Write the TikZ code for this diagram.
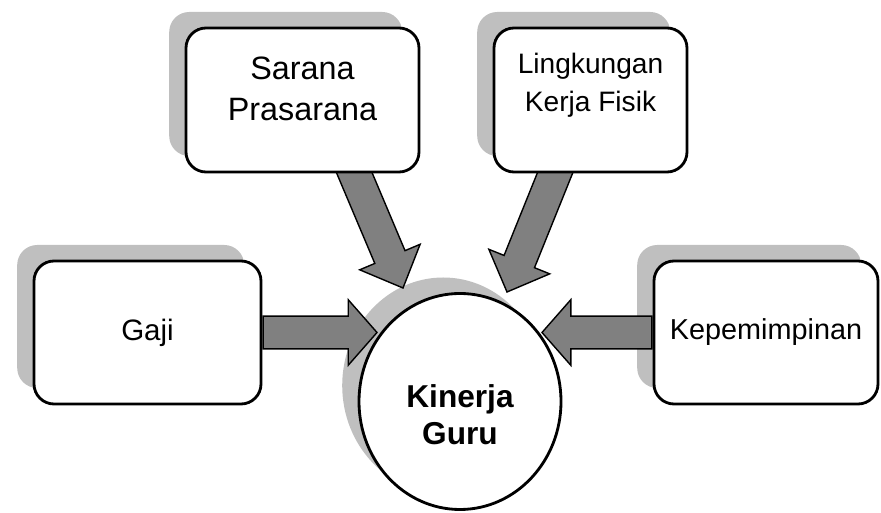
\documentclass[tikz,border=0pt]{standalone}
\usepackage{fontspec}
\setmainfont{Liberation Sans}
\usetikzlibrary{shapes.geometric,calc,shadows,backgrounds}
\pgfdeclarelayer{back}
\pgfdeclarelayer{mid}
\pgfsetlayers{back,mid,main}

% block arrow from #2 to #3, head length #1
\newcommand{\blockarrow}[3][0.72cm]{%
  \draw[blockarr] ($(#2)!0.41cm!90:(#3)$)
    -- ($(#3)!#1!(#2)!0.41cm!-90:(#2)$)
    -- ($(#3)!#1!(#2)!0.82cm!-90:(#2)$)
    -- (#3)
    -- ($(#3)!#1!(#2)!0.82cm!90:(#2)$)
    -- ($(#3)!#1!(#2)!0.41cm!90:(#2)$)
    -- ($(#2)!0.41cm!-90:(#3)$) -- cycle;}

\begin{document}
\begin{tikzpicture}[
    shade/.style={drop shadow={shadow xshift=-0.42cm, shadow yshift=0.4cm, fill=black!25, opacity=1}},
    box/.style={rectangle, draw=black, line width=2pt, fill=white, rounded corners=0.5cm, shade},
    core/.style={ellipse, draw=black, line width=2pt, fill=white, minimum width=5.05cm, minimum height=5.4cm, inner sep=0pt, shade},
    txt/.style={align=center, inner sep=0pt},
    blockarr/.style={draw=black, line width=1pt, fill=black!50, line join=miter}
]
    \useasboundingbox (0,0) rectangle (22.025,12.825);

    \begin{pgfonlayer}{back}
    \node[core, label={[txt, font=\fontsize{22.5}{27}\selectfont\bfseries, yshift=-0.33cm]center:Kinerja\\Guru}] (kinerja) at (11.5,2.7875) {};
    \end{pgfonlayer}

    \node[box, minimum width=5.825cm, minimum height=3.6cm, label={[txt, font=\fontsize{23}{29.2}\selectfont, yshift=0.27cm]center:Sarana\\Prasarana}] (sarana) at (7.5625,10.325) {};
    \node[box, minimum width=4.825cm, minimum height=3.6cm, label={[txt, font=\fontsize{20}{27}\selectfont, yshift=0.36cm]center:Lingkungan\\Kerja Fisik}] (lingkungan) at (14.7625,10.325) {};
    \node[box, minimum width=5.675cm, minimum height=3.575cm, font=\fontsize{21}{25}\selectfont] (gaji) at (3.6875,4.5125) {Gaji};
    \node[box, minimum width=5.6cm, minimum height=3.575cm, font=\fontsize{20.5}{24}\selectfont] (pimpin) at (19.15,4.5125) {Kepemimpinan};

    % start and tip points of the block arrows
    \coordinate (s1) at ([xshift=0.5pt]gaji.east);
    \coordinate (t1) at (9.425,4.5125);
    \coordinate (s2) at ([xshift=1.175cm, yshift=0.3cm]sarana.south);
    \coordinate (t2) at (10.075,5.625);
    \coordinate (s3) at ([xshift=-0.77cm, yshift=0.3cm]lingkungan.south);
    \coordinate (t3) at (12.675,5.525);
    \coordinate (s4) at ([xshift=-0.5pt]pimpin.west);
    \coordinate (t4) at (13.55,4.5125);

    \begin{pgfonlayer}{mid}
    \blockarrow[0.84cm]{s2}{t2}
    \blockarrow[0.82cm]{s3}{t3}
    \end{pgfonlayer}
    \blockarrow{s1}{t1}
    \blockarrow{s4}{t4}
\end{tikzpicture}
\end{document}
